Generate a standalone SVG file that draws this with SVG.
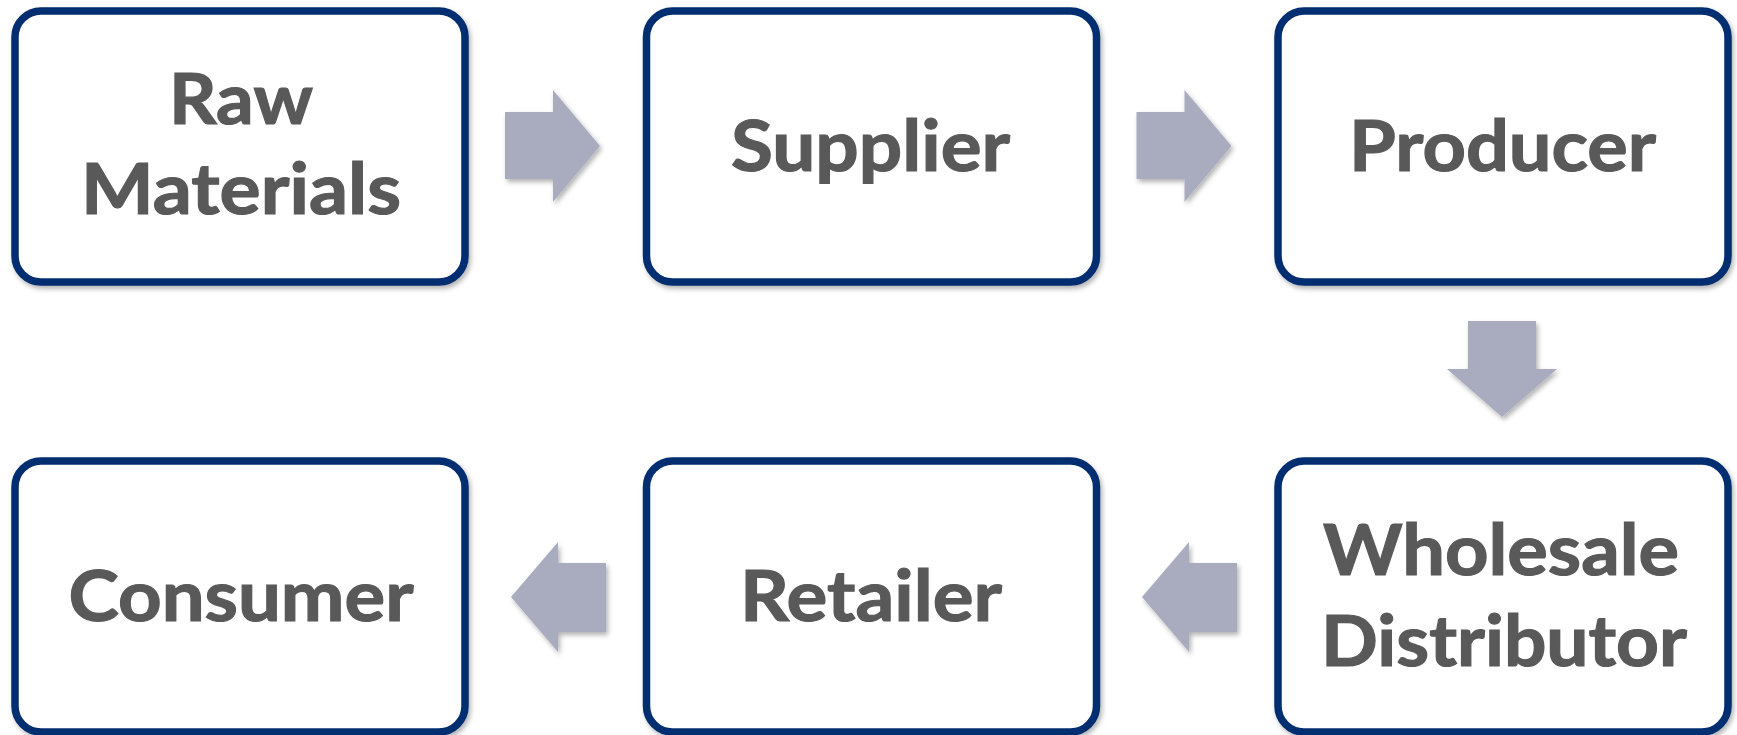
<svg xmlns="http://www.w3.org/2000/svg" width="1737" height="735" viewBox="0 0 1737 735">
<defs>
<filter id="bshadow" x="-5%" y="-5%" width="112%" height="115%">
<feDropShadow dx="2" dy="3" stdDeviation="2.5" flood-color="#000" flood-opacity="0.3"/>
</filter>
<filter id="ashadow" x="-20%" y="-20%" width="150%" height="150%">
<feDropShadow dx="2" dy="3" stdDeviation="2.5" flood-color="#000" flood-opacity="0.3"/>
</filter>
</defs>
<style>
.box{fill:#ffffff;stroke:#062d6f;stroke-width:7.5;filter:url(#bshadow)}
.lbl{font-family:Lato,"Open Sans","Liberation Sans",sans-serif;font-weight:700;font-size:71px;fill:#595959;stroke:#595959;stroke-width:1.2}
.arr{fill:#a9acbf;filter:url(#ashadow)}
</style>
<g id="connectors">
<polygon class="arr" points="505,112 553,112 553,90 600,146 553,202 553,179 505,179"/>
<polygon class="arr" points="1136.5,112 1184.5,112 1184.5,90 1231.5,146 1184.5,202 1184.5,179 1136.5,179"/>
<polygon class="arr" points="1468,321 1536,321 1536,369 1557,369 1502,417 1447,369 1468,369"/>
<polygon class="arr" points="1237,563 1189,563 1189,542 1142,597 1189,652 1189,632 1237,632"/>
<polygon class="arr" points="606,563 558,563 558,542 511,597 558,652 558,632 606,632"/>
</g>
<g id="raw-materials">
<rect class="box" x="15" y="11" width="450" height="271" rx="26"/>
<text class="lbl" x="241" y="124" text-anchor="middle" textLength="144" lengthAdjust="spacingAndGlyphs">Raw</text>
<text class="lbl" x="241" y="214" text-anchor="middle" textLength="320" lengthAdjust="spacingAndGlyphs">Materials</text>
</g>
<g id="supplier">
<rect class="box" x="646.5" y="11" width="450" height="271" rx="26"/>
<text class="lbl" x="870.5" y="171" text-anchor="middle" textLength="279" lengthAdjust="spacingAndGlyphs">Supplier</text>
</g>
<g id="producer">
<rect class="box" x="1278" y="11" width="450" height="271" rx="26"/>
<text class="lbl" x="1502.5" y="171" text-anchor="middle" textLength="307" lengthAdjust="spacingAndGlyphs">Producer</text>
</g>
<g id="wholesale-distributor">
<rect class="box" x="1278" y="461" width="450" height="271" rx="26"/>
<text class="lbl" x="1501" y="575" text-anchor="middle" textLength="356" lengthAdjust="spacingAndGlyphs">Wholesale</text>
<text class="lbl" x="1504" y="666" text-anchor="middle" textLength="366" lengthAdjust="spacingAndGlyphs">Distributor</text>
</g>
<g id="retailer">
<rect class="box" x="646.5" y="461" width="450" height="271" rx="26"/>
<text class="lbl" x="871" y="621" text-anchor="middle" textLength="262" lengthAdjust="spacingAndGlyphs">Retailer</text>
</g>
<g id="consumer">
<rect class="box" x="15" y="461" width="450" height="271" rx="26"/>
<text class="lbl" x="241" y="621" text-anchor="middle" textLength="345" lengthAdjust="spacingAndGlyphs">Consumer</text>
</g>
</svg>
